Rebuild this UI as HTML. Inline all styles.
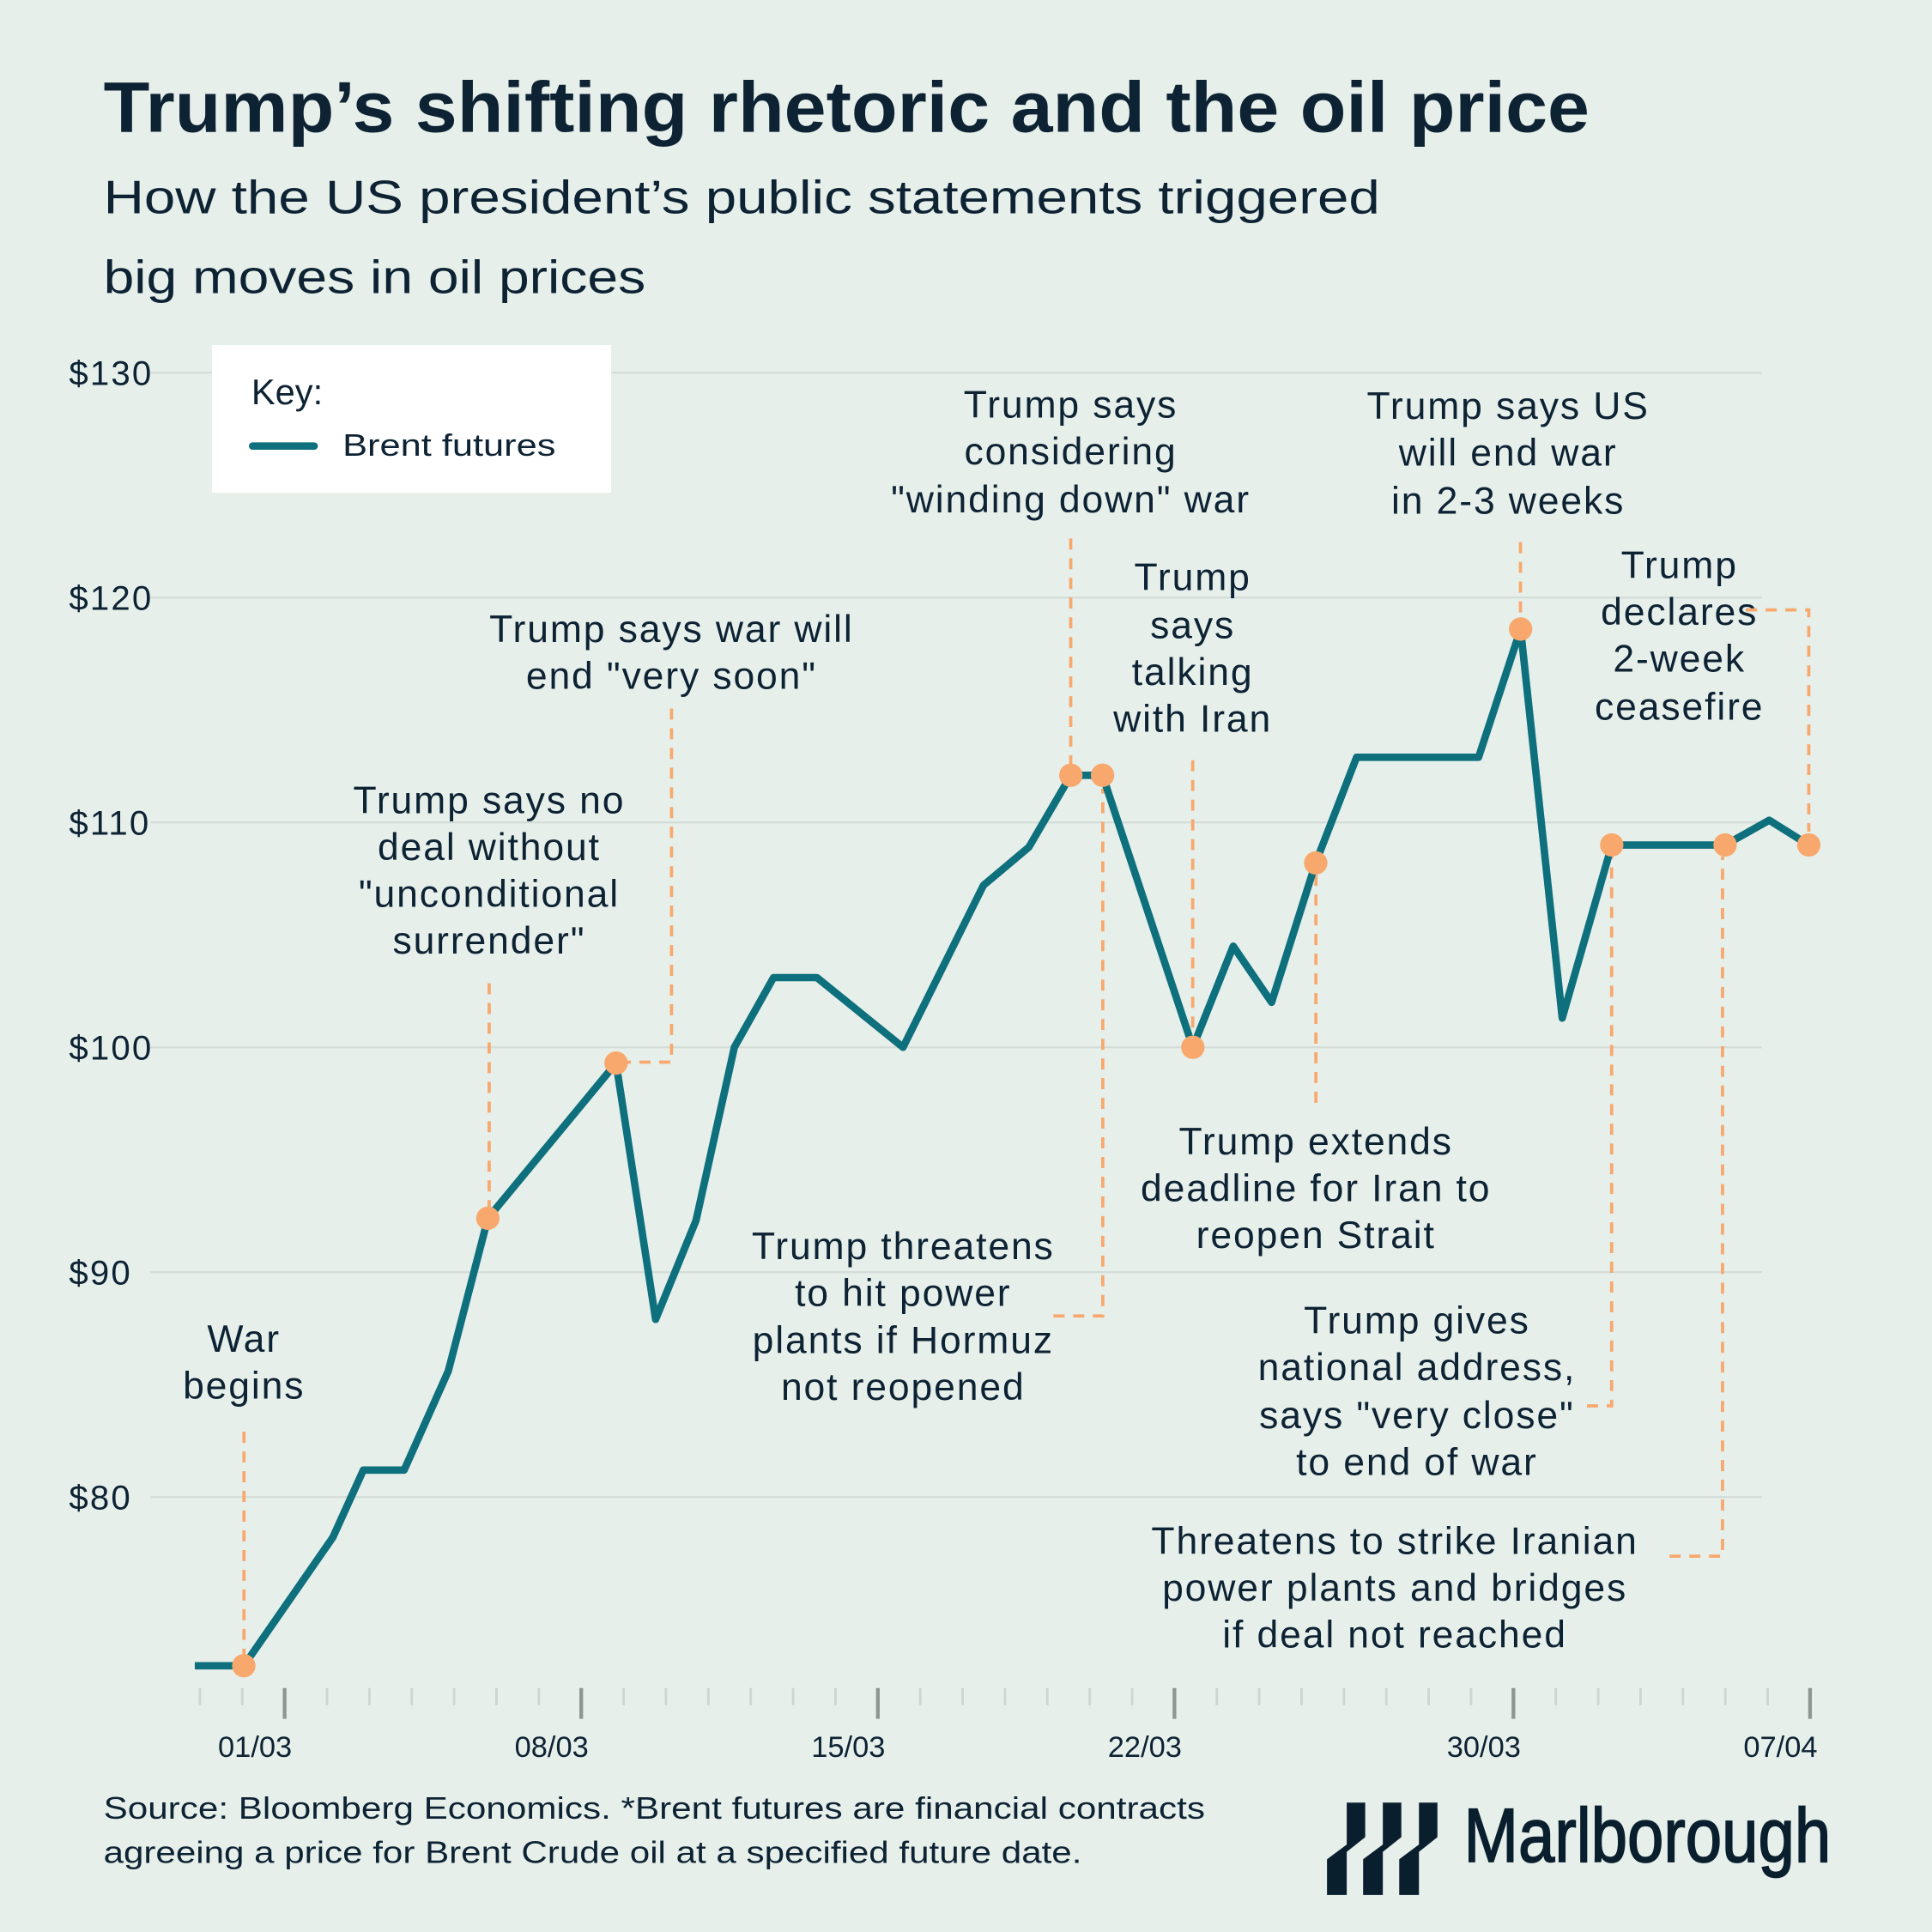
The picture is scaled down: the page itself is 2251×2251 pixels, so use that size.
<!DOCTYPE html>
<html><head><meta charset="utf-8"><style>
html,body{margin:0;padding:0;background:#e6efea;}
svg{display:block;font-family:"Liberation Sans",sans-serif;}
.ann{font-size:31px;fill:#0d2233;text-anchor:middle;letter-spacing:1.3px;}
.dash{stroke:#f8a86d;stroke-width:2.6;stroke-dasharray:9 7;fill:none;}
</style></head><body>
<svg id="chart" width="2251" height="2251" viewBox="0 0 1568 1568" xmlns="http://www.w3.org/2000/svg">
<rect width="1568" height="1568" fill="#e6efea"/>
<text x="84" y="107" font-size="58" font-weight="bold" fill="#0d2233" textLength="1206" lengthAdjust="spacingAndGlyphs">Trump’s shifting rhetoric and the oil price</text>
<text x="84" y="173" font-size="38" fill="#0d2233" textLength="1036" lengthAdjust="spacingAndGlyphs">How the US president’s public statements triggered</text>
<text x="84" y="238" font-size="38" fill="#0d2233" textLength="440" lengthAdjust="spacingAndGlyphs">big moves in oil prices</text>
<g id="grid"></g>
<g id="yaxis"></g>
<g id="xaxis"></g>
<g>
<g><text class="ann" x="198" y="1097">War</text><text class="ann" x="198" y="1135">begins</text><path class="dash" d="M198 1162V1345"/></g>
<g><text class="ann" x="397" y="660">Trump says no</text><text class="ann" x="397" y="698">deal without</text><text class="ann" x="397" y="736">"unconditional</text><text class="ann" x="397" y="774">surrender"</text><path class="dash" d="M397 798V980"/></g>
<g><text class="ann" x="545" y="521">Trump says war will</text><text class="ann" x="545" y="559">end "very soon"</text><path class="dash" d="M545 575V862H505"/></g>
<g><text class="ann" x="869" y="339">Trump says</text><text class="ann" x="869" y="377">considering</text><text class="ann" x="869" y="416">"winding down" war</text><path class="dash" d="M869 437V620"/></g>
<g><text class="ann" x="733" y="1022">Trump threatens</text><text class="ann" x="733" y="1060">to hit power</text><text class="ann" x="733" y="1098">plants if Hormuz</text><text class="ann" x="733" y="1136">not reopened</text><path class="dash" d="M855 1068H895V640"/></g>
<g><text class="ann" x="968" y="479">Trump</text><text class="ann" x="968" y="518">says</text><text class="ann" x="968" y="556">talking</text><text class="ann" x="968" y="594">with Iran</text><path class="dash" d="M968 617V840"/></g>
<g><text class="ann" x="1068" y="937">Trump extends</text><text class="ann" x="1068" y="975">deadline for Iran to</text><text class="ann" x="1068" y="1013">reopen Strait</text><path class="dash" d="M1068 710V898"/></g>
<g><text class="ann" x="1224" y="340">Trump says US</text><text class="ann" x="1224" y="378">will end war</text><text class="ann" x="1224" y="417">in 2-3 weeks</text><path class="dash" d="M1234 440V500"/></g>
<g><text class="ann" x="1363" y="469">Trump</text><text class="ann" x="1363" y="507">declares</text><text class="ann" x="1363" y="545">2-week</text><text class="ann" x="1363" y="584">ceasefire</text><path class="dash" d="M1417 495H1468V675"/></g>
<g><text class="ann" x="1150" y="1082">Trump gives</text><text class="ann" x="1150" y="1120">national address,</text><text class="ann" x="1150" y="1159">says "very close"</text><text class="ann" x="1150" y="1197">to end of war</text><path class="dash" d="M1288 1141H1308V695"/></g>
<g><text class="ann" x="1132" y="1261">Threatens to strike Iranian</text><text class="ann" x="1132" y="1299">power plants and bridges</text><text class="ann" x="1132" y="1337">if deal not reached</text><path class="dash" d="M1355 1263H1398V695"/></g>
</g>
<g id="series"></g>
<g>
<rect x="172" y="280" width="324" height="120" fill="#ffffff"/>
<text x="204" y="328" font-size="29" fill="#0d2233">Key:</text>
<line x1="205" y1="362" x2="255" y2="362" stroke="#0e6f7d" stroke-width="6" stroke-linecap="round"/>
<text x="278" y="370" font-size="25" fill="#0d2233" textLength="173" lengthAdjust="spacingAndGlyphs">Brent futures</text>
</g>
<text x="84" y="1476" font-size="25" fill="#0d2233" textLength="894" lengthAdjust="spacingAndGlyphs">Source: Bloomberg Economics. *Brent futures are financial contracts</text>
<text x="84" y="1512" font-size="25" fill="#0d2233" textLength="794" lengthAdjust="spacingAndGlyphs">agreeing a price for Brent Crude oil at a specified future date.</text>
<g fill="#0a1f2e">
<polygon points="1093,1463 1108,1463 1108,1491 1093,1503 1093,1538 1077,1538 1077,1509 1093,1497"/>
<polygon transform="translate(29.3,0)" points="1093,1463 1108,1463 1108,1491 1093,1503 1093,1538 1077,1538 1077,1509 1093,1497"/>
<polygon transform="translate(58.6,0)" points="1093,1463 1108,1463 1108,1491 1093,1503 1093,1538 1077,1538 1077,1509 1093,1497"/>
<text x="1188" y="1511" font-size="62" fill="#0a1f2e" stroke="#0a1f2e" stroke-width="1.2" textLength="298" lengthAdjust="spacingAndGlyphs">Marlborough</text>
</g>
</svg>
<script>
const days = [-2.18,-0.99,1.17,1.91,2.9,3.97,4.93,8.04,9,9.98,10.91,11.86,12.91,15,16.95,18.05,19.07,19.84,22.03,23.01,23.94,25.01,26,28.96,29.98,30.99,32.19,34.94,36.01,36.97];
const prices = [72.5,72.5,78.2,81.2,81.2,85.6,92.4,99.3,87.9,92.3,100,103.1,103.1,100,107.2,108.9,112.1,112.1,100,104.5,102,108.2,112.9,112.9,118.6,101.3,109,109,110.1,109];
const markerIdx = [1,6,7,16,17,18,21,24,26,27,29];
const yTicks = [80,90,100,110,120,130];
const yTickLabels = ["$80","$90","$100","$110","$120","$130"];
const majorTickIdx = [0,7,14,21,29,36];
const xTickLabels = ["01/03","08/03","15/03","22/03","30/03","07/04"];
const NS = "http://www.w3.org/2000/svg";
function X(d){return 231 + d*33.46;}
function Y(v){return 850 - (v-100)*18.25;}
function mk(tag, attrs, parent){const e=document.createElementNS(NS,tag);for(const k in attrs)e.setAttribute(k,attrs[k]);parent.appendChild(e);return e;}
const grid=document.getElementById('grid'), yax=document.getElementById('yaxis'), xax=document.getElementById('xaxis'), ser=document.getElementById('series');
yTicks.forEach((v,i)=>{
  const l=mk('line',{x1:122,x2:1430,y1:Y(v),y2:Y(v),stroke:'#d3dcd7','stroke-width':1.5},grid);
  
  
  const t=mk('text',{x:56,y:Y(v)+10,'font-size':28,fill:'#0d2233','letter-spacing':'1.5'},yax);
  t.textContent=yTickLabels[i];
  
  
});
const step=37/36;
for(let k=-2;k<=36;k++){
  const major=majorTickIdx.indexOf(k);
  const x=X(k*step);
  const l=mk('line',{x1:x,x2:x,y1:1370,y2:major>=0?1395:1384,stroke:major>=0?'#8e9592':'#cfd6d2','stroke-width':major>=0?3:2},xax);
  
  
  if(major>=0){
    const t=mk('text',{x:x+6,y:1426,'font-size':24,fill:'#0d2233','text-anchor':'end'},xax);
    t.textContent=xTickLabels[major];
    
    
  }
}
const pts=days.map((d,i)=>X(d).toFixed(1)+','+Y(prices[i]).toFixed(1)).join(' ');
const line=mk('polyline',{points:pts,fill:'none',stroke:'#0e6f7d','stroke-width':6,'stroke-linejoin':'round'},ser);


markerIdx.forEach(i=>{
  const c=mk('circle',{cx:X(days[i]),cy:Y(prices[i]),r:9.5,fill:'#f8a86d'},ser);
  
  
});
</script>
</body></html>
